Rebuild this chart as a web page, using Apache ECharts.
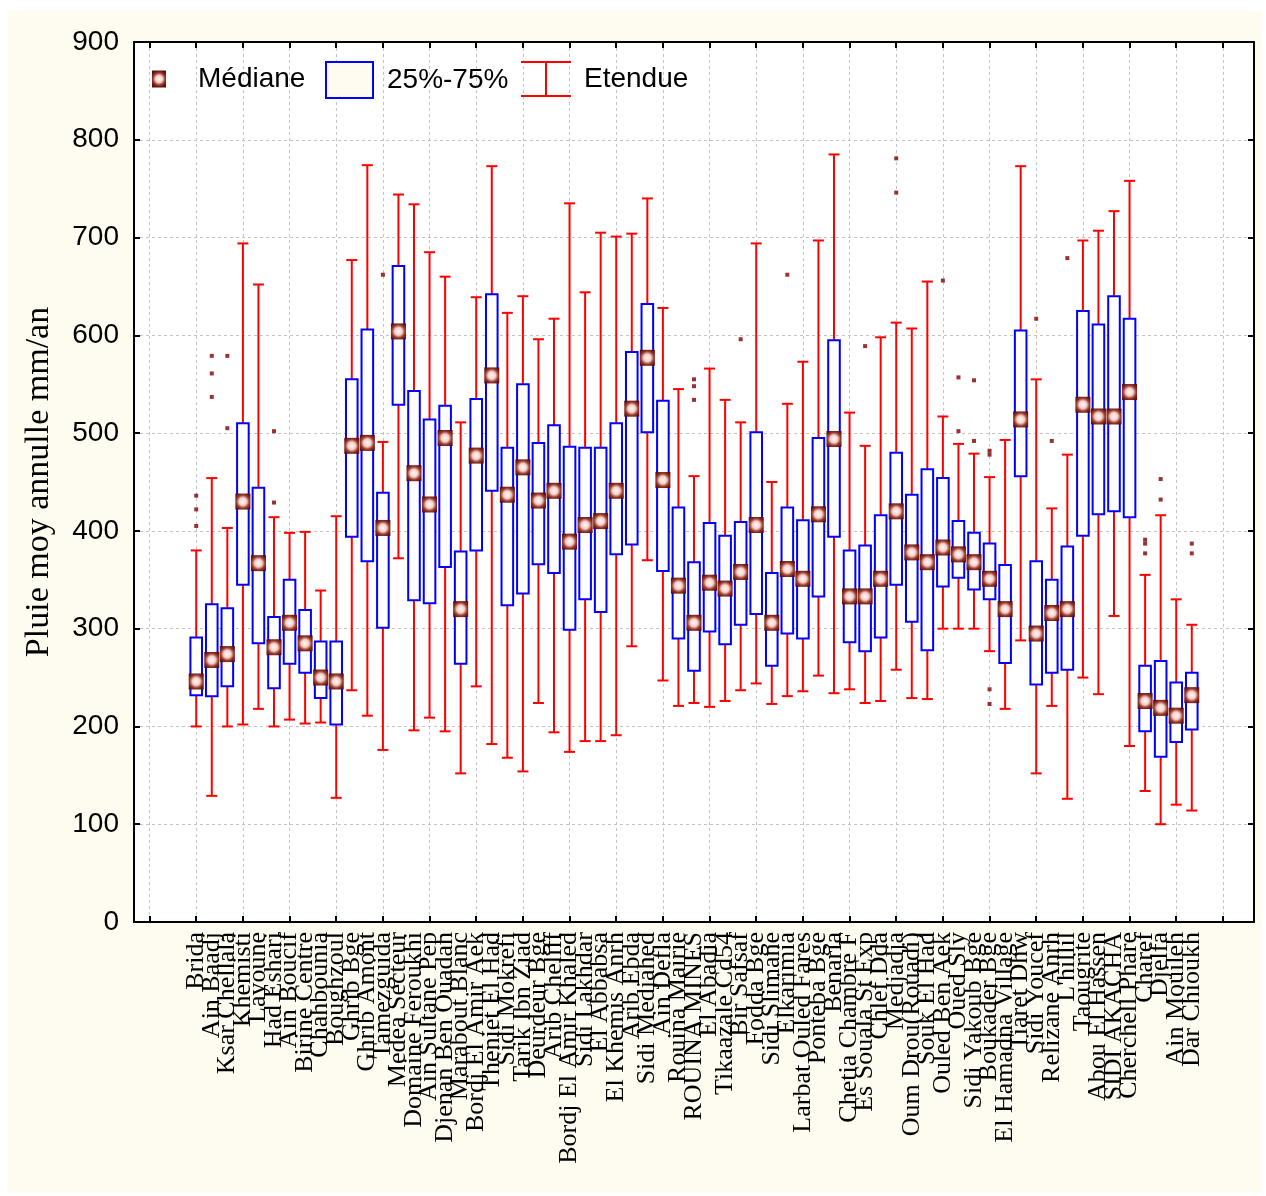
<!DOCTYPE html>
<html>
<head>
<meta charset="utf-8">
<script src="https://cdn.jsdelivr.net/npm/echarts@6/dist/echarts.min.js"></script>
<style>html,body{margin:0;padding:0;background:#fff;}#chart{width:1266px;height:1196px;}</style>
</head>
<body>
<div id="chart"></div>
<script>
const categories = ["Brida","Ain Baadj","Ksar Chellala","Khemisti","Layoune","Had Eshari","Ain Boucif","Birine Centre","Chahbounia","Boughzoul","Ghrib Bge","Ghrib Amont","Tamezguida","Medea Secteur","Domaine Feroukhi","Ain Sultane Pep","Djenan Ben Ouadah","Marabout Blanc","Bordj El Amir Aek","Theniet El Had","Sidi Mokrefi","Tarik Ibn Ziad","Deurdeur Bge","Arib Cheliff","Bordj El Amir Khaled","Sidi Lakhdar","El Abbabsa","El Khemis Anrh","Arib Ebda","Sidi Medjahed","Ain Defla","Rouina Mairie","ROUINA MINES","El Abadia","Tikaazale Cd54","Bir Safsaf","Fodda Bge","Sidi Slimane","Elkarimia","Larbat Ouled Fares","Ponteba Bge","Benaria","Chetia Chambre F","Es Souala St Exp","Chlef Dda","Medjadja","Oum Drou(Rouadi)","Souk El Had","Ouled Ben Aek","Oued Sly","Sidi Yakoub Bge","Boukader Bge","El Hamadna Village","Tiaret Dhw","Sidi Youcef","Relizane Anrh","L'hillil","Taougrite","Abou El Hassen","SIDI AKACHA","Cherchell Phare","Charef","Djelfa","Ain Mouileh","Dar Chioukh"];

const whiskerLow  = [200,129,200,202,218,200,207,203,204,127,237,211,176,372,196,209,195,152,241,182,168,154,224,194,174,185,185,191,282,370,247,221,224,220,226,237,244,223,231,236,252,234,238,224,226,258,229,228,300,300,300,277,218,288,152,221,126,250,233,313,180,134,100,120,114];
const q1          = [232,231,241,345,285,239,264,255,229,202,394,369,301,529,329,326,363,264,380,441,324,336,366,357,299,330,317,376,386,501,359,290,257,297,284,304,315,262,295,290,333,394,286,277,291,345,307,278,343,352,340,330,265,456,243,255,258,395,417,420,414,195,169,184,197];
const medians     = [246,268,274,430,367,281,306,285,250,246,487,490,403,604,459,427,495,320,477,559,437,465,431,441,389,406,410,441,525,577,452,344,306,347,341,358,406,306,361,351,417,494,333,333,351,420,378,368,383,376,368,351,320,514,295,316,320,529,517,517,542,226,219,211,232];
const q3          = [291,325,321,510,444,312,350,319,287,287,555,606,439,671,543,514,528,379,535,642,485,550,490,508,486,485,485,510,583,632,533,424,368,408,395,409,501,357,424,411,495,595,380,385,416,480,437,463,454,410,398,387,365,605,369,350,384,625,611,640,617,262,267,245,255];
const whiskerHigh = [380,454,403,694,652,414,398,399,339,415,677,774,491,744,734,685,660,511,639,773,623,640,596,617,735,644,705,701,704,740,628,545,456,566,534,511,694,450,530,573,697,785,521,487,598,613,607,655,517,489,479,455,493,773,555,423,478,697,707,727,758,355,416,330,304];
// outliers: [category number (1-based), value]
const outliers = [[1,436],[1,422],[1,405],[2,579],[2,561],[2,537],[3,579],[3,505],[6,502],[6,429],[13,662],[33,555],[33,548],[33,534],[36,596],[39,662],[44,589],[46,781],[46,746],[49,656],[50,557],[50,502],[51,554],[51,492],[52,482],[52,478],[52,238],[52,223],[55,617],[56,492],[57,679],[62,391],[62,387],[62,377],[63,453],[63,432],[65,387],[65,377]];

const xTickValues = [];
for (let v = -2; v <= 67; v += 3) xTickValues.push(v);
// category labels split into three interleaved groups so that neighbouring labels never collide
const labelGroups = [[], [], []];
categories.forEach((c, i) => labelGroups[i % 3].push(i + 1));

const whiskerData = categories.map((c, i) => [i + 1, whiskerLow[i], whiskerHigh[i]]);
const boxData = categories.map((c, i) => [i + 1, q1[i], q3[i]]);
const medianData = categories.map((c, i) => [i + 1, medians[i]]);

const medGrad = {type: 'radial', x: 0.5, y: 0.5, r: 0.62, colorStops: [
  {offset: 0, color: '#fff6f3'}, {offset: 0.4, color: '#f5d2cb'}, {offset: 0.7, color: '#9a3a2e'}, {offset: 1, color: '#5c0f08'}]};

const chart = echarts.init(document.getElementById('chart'), null, {renderer: 'canvas'});
const axisLineStyle = {color: '#000', width: 2};
const gridLine = {show: true, lineStyle: {color: '#c4c4c4', type: [3, 3], width: 1}};
const xLabelStyle = {show: true, rotate: 90, margin: 10, showMinLabel: true, showMaxLabel: true, hideOverlap: false,
  formatter: v => categories[Math.round(v) - 1] || '', fontFamily: 'Liberation Serif', fontSize: 26, color: '#000'};

function labelAxis(values) {
  return {type: 'value', min: -3, max: 69, position: 'bottom', offset: 0,
    axisLine: {show: false}, axisTick: {show: false}, splitLine: {show: false},
    axisLabel: Object.assign({}, xLabelStyle, {customValues: values})};
}

const option = {
  backgroundColor: '#ffffff',
  animation: false,
  graphic: [{type: 'rect', left: 7, top: 11, shape: {width: 1255, height: 1182}, style: {fill: '#fefbf0'}, z: -100, silent: true}],
  grid: {left: 134, top: 42, width: 1120, height: 880, show: true, backgroundColor: '#ffffff', borderWidth: 0},
  legend: [
    {data: [{name: 'Médiane', icon: 'rect', itemStyle: {color: medGrad, borderWidth: 0}}], left: 152, top: 65, padding: 0,
     itemWidth: 14, itemHeight: 17, selectedMode: false,
     textStyle: {fontFamily: 'Liberation Sans', fontSize: 28, color: '#000', padding: [0, 0, 0, 27]}},
    {data: [{name: '25%-75%', icon: 'rect', itemStyle: {color: '#fefbf0', borderColor: '#0000ff', borderWidth: 2}}], left: 325, top: 61, padding: 0,
     itemWidth: 47, itemHeight: 36, selectedMode: false,
     textStyle: {fontFamily: 'Liberation Sans', fontSize: 28, color: '#000', padding: [0, 0, 0, 9]}},
    {data: [{name: 'Etendue', icon: 'path://M0,0H50V2H0Z M24,0H26V36H24Z M0,34H50V36H0Z', itemStyle: {color: '#ff0000', borderWidth: 0}}], left: 521, top: 61, padding: 0,
     itemWidth: 50, itemHeight: 36, selectedMode: false,
     textStyle: {fontFamily: 'Liberation Sans', fontSize: 28, color: '#000', padding: [0, 0, 0, 8]}}
  ],
  xAxis: [
    {type: 'value', min: -3, max: 69, position: 'bottom',
     axisLine: {show: true, onZero: false, lineStyle: axisLineStyle},
     axisTick: {show: true, inside: true, length: 6, customValues: xTickValues, lineStyle: axisLineStyle},
     axisLabel: Object.assign({}, xLabelStyle, {customValues: labelGroups[0]}),
     splitLine: gridLine},
    {type: 'value', min: -3, max: 69, position: 'top',
     axisLine: {show: true, onZero: false, lineStyle: axisLineStyle},
     axisTick: {show: true, inside: true, length: 6, customValues: xTickValues, lineStyle: axisLineStyle},
     axisLabel: {show: false}, splitLine: {show: false}},
    labelAxis(labelGroups[1]),
    labelAxis(labelGroups[2])
  ],
  yAxis: [
    {type: 'value', min: 0, max: 900, interval: 100, position: 'left',
     name: 'Pluie moy annulle mm/an', nameLocation: 'middle', nameGap: 78,
     nameTextStyle: {fontFamily: 'Liberation Serif', fontSize: 34, color: '#000'},
     axisLine: {show: true, onZero: false, lineStyle: axisLineStyle},
     axisTick: {show: true, inside: true, length: 6, lineStyle: axisLineStyle},
     axisLabel: {fontFamily: 'Liberation Sans', fontSize: 28, color: '#000', margin: 15},
     splitLine: gridLine},
    {type: 'value', min: 0, max: 900, interval: 100, position: 'right',
     axisLine: {show: true, onZero: false, lineStyle: axisLineStyle},
     axisTick: {show: true, inside: true, length: 6, lineStyle: axisLineStyle},
     axisLabel: {show: false}, splitLine: {show: false}}
  ],
  series: [
    {name: 'Etendue', type: 'custom', data: whiskerData, z: 2,
     itemStyle: {color: '#ff0000'},
     renderItem: (params, api) => {
       const x = api.value(0);
       const lo = api.coord([x, api.value(1)]);
       const hi = api.coord([x, api.value(2)]);
       const s = {stroke: '#ff0000', lineWidth: 2, fill: null};
       return {type: 'group', children: [
         {type: 'line', shape: {x1: lo[0], y1: lo[1], x2: hi[0], y2: hi[1]}, style: s},
         {type: 'line', shape: {x1: lo[0] - 5.5, y1: lo[1], x2: lo[0] + 5.5, y2: lo[1]}, style: s},
         {type: 'line', shape: {x1: hi[0] - 5.5, y1: hi[1], x2: hi[0] + 5.5, y2: hi[1]}, style: s}
       ]};
     }},
    {name: '25%-75%', type: 'custom', data: boxData, z: 3,
     itemStyle: {color: '#0000ff'},
     renderItem: (params, api) => {
       const x = api.value(0);
       const a = api.coord([x, api.value(1)]);
       const b = api.coord([x, api.value(2)]);
       return {type: 'rect', shape: {x: a[0] - 5.8, y: b[1], width: 11.6, height: a[1] - b[1]},
               style: {fill: '#ffffff', stroke: '#0000ff', lineWidth: 2}};
     }},
    {name: 'Médiane', type: 'custom', data: medianData, z: 4,
     itemStyle: {color: '#7a1a10'},
     renderItem: (params, api) => {
       const p = api.coord([api.value(0), api.value(1)]);
       return {type: 'rect', shape: {x: p[0] - 7.5, y: p[1] - 8, width: 15, height: 16}, style: {fill: medGrad}};
     }},
    {name: 'outliers', type: 'scatter', data: outliers, symbol: 'rect', symbolSize: 4, z: 5,
     itemStyle: {color: '#800000'}}
  ]
};
chart.setOption(option);
</script>
</body>
</html>
